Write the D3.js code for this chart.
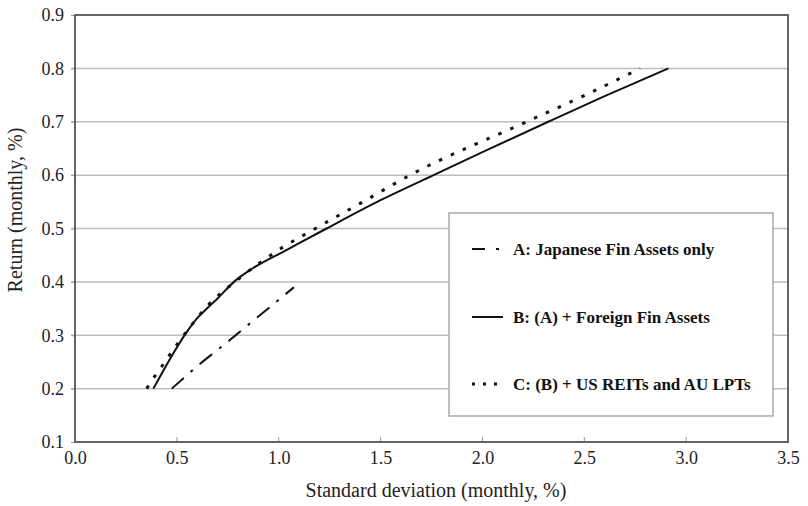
<!DOCTYPE html>
<html>
<head>
<meta charset="utf-8">
<script src="https://cdn.jsdelivr.net/npm/d3@7.9.0/dist/d3.min.js"></script>
<style>
  body { margin: 0; background: #fff; }
  svg { display: block; font-family: "Liberation Serif", "Times New Roman", serif; }
</style>
</head>
<body>
<svg id="chart" width="808" height="506"></svg>
<script>
/* ---- data ---- */
const seriesNames = [
  'A: Japanese Fin Assets only',
  'B: (A) + Foreign Fin Assets',
  'C: (B) + US REITs and AU LPTs'
];
const riskA = [0.475, 0.60, 0.75, 0.90, 1.075];
const retA  = [0.200, 0.242, 0.288, 0.335, 0.390];

const riskB = [0.385, 0.556, 0.60, 0.65, 0.70, 0.78, 0.875, 1.04, 1.235, 1.50, 1.76, 2.0, 2.323, 2.6, 2.913];
const retB  = [0.200, 0.310, 0.332, 0.351, 0.369, 0.400, 0.426, 0.460, 0.500, 0.553, 0.600, 0.643, 0.700, 0.748, 0.800];

const riskC = [0.352, 0.393, 0.434, 0.475, 0.515, 0.57, 0.65, 0.785, 1.0, 1.18, 1.40, 1.645, 2.217, 2.5, 2.774];
const retC  = [0.200, 0.224, 0.246, 0.269, 0.290, 0.318, 0.355, 0.400, 0.460, 0.500, 0.547, 0.600, 0.700, 0.749, 0.800];

const xTicks = [0, 0.5, 1.0, 1.5, 2.0, 2.5, 3.0, 3.5];
const yTicks = [0.1, 0.2, 0.3, 0.4, 0.5, 0.6, 0.7, 0.8, 0.9];

/* ---- layout ---- */
const svg = d3.select('#chart');
const m = { left: 75, right: 20, top: 15, bottom: 64 };
const W = 808, H = 506;

const x = d3.scaleLinear().domain([0, 3.5]).range([m.left, W - m.right]);
const y = d3.scaleLinear().domain([0.1, 0.9]).range([H - m.bottom, m.top]);

/* gridlines */
svg.append('g')
  .selectAll('line')
  .data(yTicks.slice(1, -1))
  .join('line')
    .attr('x1', x(0) - 4).attr('x2', x(3.5))
    .attr('y1', d => y(d)).attr('y2', d => y(d))
    .attr('stroke', '#bdbdbd').attr('stroke-width', 1.5);

/* x axis */
const xAxis = svg.append('g')
  .attr('transform', `translate(0,${y(0.1)})`)
  .call(d3.axisBottom(x).tickValues(xTicks).tickFormat(d3.format('.1f')).tickSize(0).tickPadding(9));
xAxis.select('.domain').remove();
xAxis.selectAll('text').attr('font-size', 18).attr('fill', '#222').attr('font-family', '"Liberation Serif", serif');

svg.append('g')
  .selectAll('line')
  .data(xTicks.slice(1, -1))
  .join('line')
    .attr('x1', d => x(d)).attr('x2', d => x(d))
    .attr('y1', y(0.1)).attr('y2', y(0.1) - 5)
    .attr('stroke', '#999').attr('stroke-width', 1);

/* y axis */
const yAxis = svg.append('g')
  .attr('transform', `translate(${x(0)},0)`)
  .call(d3.axisLeft(y).tickValues(yTicks).tickFormat(d3.format('.1f')).tickSize(4).tickPadding(7));
yAxis.select('.domain').remove();
yAxis.selectAll('line').attr('stroke', '#999');
yAxis.selectAll('text').attr('font-size', 18).attr('fill', '#222').attr('font-family', '"Liberation Serif", serif');

/* plot frame */
svg.append('rect')
  .attr('x', x(0)).attr('y', y(0.9))
  .attr('width', x(3.5) - x(0)).attr('height', y(0.1) - y(0.9))
  .attr('fill', 'none').attr('stroke', '#555').attr('stroke-width', 1.8);

/* axis titles */
svg.append('text')
  .attr('x', 436).attr('y', 497)
  .attr('text-anchor', 'middle').attr('font-size', 20).attr('fill', '#222')
  .text('Standard deviation (monthly, %)');

svg.append('text')
  .attr('transform', 'translate(22,210) rotate(-90)')
  .attr('text-anchor', 'middle').attr('font-size', 20).attr('fill', '#222')
  .text('Return (monthly, %)');

/* frontiers */
const line = d3.line().x(d => x(d[0])).y(d => y(d[1])).curve(d3.curveMonotoneX);
const styles = [
  { dash: '16,9,3,9', width: 2 },
  { dash: null,       width: 2 },
  { dash: '3.5,9.5',  width: 3 }
];
const series = [
  d3.zip(riskA, retA),
  d3.zip(riskB, retB),
  d3.zip(riskC, retC)
];

svg.append('g')
  .selectAll('path')
  .data(series)
  .join('path')
    .attr('d', line)
    .attr('fill', 'none')
    .attr('stroke', '#111')
    .attr('stroke-width', (_, i) => styles[i].width)
    .attr('stroke-dasharray', (_, i) => styles[i].dash);

/* legend */
const lg = svg.append('g');
lg.append('rect')
  .attr('x', 449).attr('y', 213).attr('width', 324).attr('height', 203)
  .attr('fill', '#fff').attr('stroke', '#aaa').attr('stroke-width', 1.5);

const rowY = [249, 317, 384];
const row = lg.selectAll('g.row')
  .data(seriesNames)
  .join('g')
    .attr('class', 'row')
    .attr('transform', (_, i) => `translate(0,${rowY[i]})`);

row.append('line')
  .attr('x1', 472).attr('x2', (_, i) => i === 2 ? 497 : 503)
  .attr('y1', 0).attr('y2', 0)
  .attr('stroke', '#111')
  .attr('stroke-width', (_, i) => styles[i].width)
  .attr('stroke-dasharray', (_, i) => i === 0 ? '13,11,3,20' : i === 2 ? '3,8' : null);

row.append('text')
  .attr('x', 513).attr('y', 6)
  .attr('font-size', 17).attr('font-weight', 'bold').attr('fill', '#111')
  .text(d => d);
</script>
</body>
</html>
